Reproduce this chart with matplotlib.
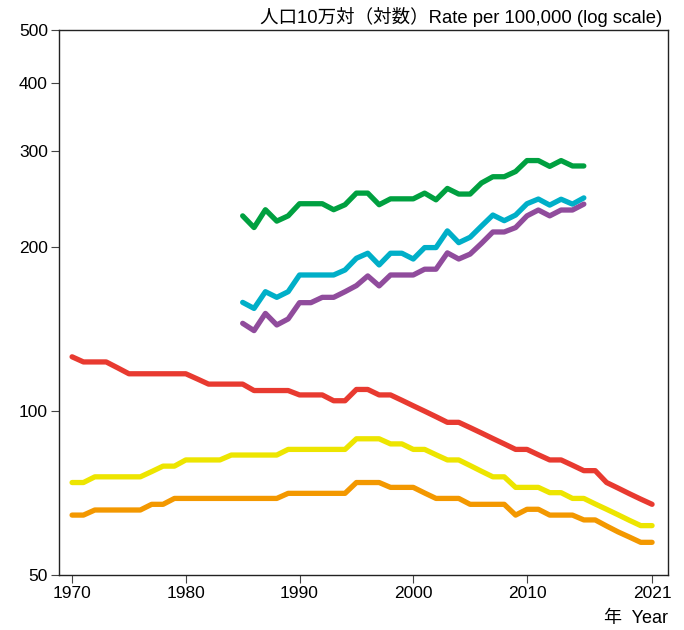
import numpy as np
import matplotlib
matplotlib.use("Agg")
import matplotlib.pyplot as plt

plt.rcParams['font.family'] = ['Liberation Sans', 'DejaVu Sans']

# Data
years_long = list(range(1970, 2022))
years_short = list(range(1985, 2016))

red = [125.7, 123, 123, 123, 120, 117, 117, 117, 117, 117,
       117, 114.5, 112, 112, 112, 112, 109, 109, 109, 109,
       107, 107, 107, 104.4, 104.4, 109.5, 109.5, 107, 107, 104.6,
       102.2, 99.9, 97.6, 95.3, 95.3, 93.2, 91.1, 89, 87, 85,
       85, 83.1, 81.3, 81.3, 79.5, 77.7, 77.7, 73.9, 72.2, 70.5,
       68.9, 67.4]
yellow = [73.9, 73.9, 75.7, 75.7, 75.7, 75.7, 75.7, 77.4, 79.2, 79.2,
          81.3, 81.3, 81.3, 81.3, 83, 83, 83, 83, 83, 85,
          85, 85, 85, 85, 85, 88.9, 88.9, 88.9, 87, 87,
          85, 85, 83.1, 81.3, 81.3, 79.4, 77.5, 75.7, 75.7, 72.4,
          72.4, 72.4, 70.8, 70.8, 69.1, 69.1, 67.5, 66, 64.5, 63,
          61.6, 61.6]
orange = [64.4, 64.4, 65.8, 65.8, 65.8, 65.8, 65.8, 67.4, 67.4, 69.1,
          69.1, 69.1, 69.1, 69.1, 69.1, 69.1, 69.1, 69.1, 69.1, 70.6,
          70.6, 70.6, 70.6, 70.6, 70.6, 73.9, 73.9, 73.9, 72.4, 72.4,
          72.4, 70.7, 69.1, 69.1, 69.1, 67.4, 67.4, 67.4, 67.4, 64.4,
          66, 66, 64.4, 64.4, 64.4, 63.1, 63.1, 61.5, 60, 58.7,
          57.4, 57.4]

green = [228, 217, 234, 223, 228, 240, 240, 240, 234, 239,
         251, 251, 239, 245, 245, 245, 251, 244, 256, 250,
         250, 262, 269, 269, 275, 288, 288, 281, 288, 281.5,
         281.5]
cyan = [158.2, 154.2, 165.5, 161.6, 165.5, 177.6, 177.6, 177.6, 177.6, 181.4,
        190.6, 194.7, 185.3, 194.7, 194.7, 190, 199.4, 199.4, 214, 203.6,
        208.3, 218.4, 228.8, 223.4, 228.8, 240, 244.8, 238.6, 244.6, 239.6,
        246]
purple = [144.8, 140.4, 151, 143.8, 147.5, 158, 158, 161.6, 161.6, 165.5,
          169.8, 176.9, 169.6, 177.6, 177.6, 177.6, 182, 182, 195, 190,
          194, 203, 213, 213, 217, 228, 233.7, 228, 233.7, 233.7,
          239.6]

xticks = [1970, 1980, 1990, 2000, 2010, 2021]
yticks = [50, 100, 200, 300, 400, 500]

fig = plt.figure(figsize=(6.84, 6.3), dpi=100)
ax = fig.add_axes([59 / 684, 1 - 575 / 630, (668 - 59) / 684, (575 - 30) / 630])

lw = 3.8
style = dict(linewidth=lw, solid_capstyle='round', solid_joinstyle='round')
ax.plot(years_long, red, color='#E83A30', **style)
ax.plot(years_long, yellow, color='#EDE500', **style)
ax.plot(years_long, orange, color='#F39800', **style)
ax.plot(years_short, green, color='#00A040', **style)
ax.plot(years_short, cyan, color='#00AFC8', **style)
ax.plot(years_short, purple, color='#904C9C', **style)

ax.set_yscale('log')
ax.set_ylim(50, 500)
ax.set_xlim(1968.85, 2022.4)
ax.set_yticks(yticks)
ax.set_yticklabels([str(v) for v in yticks])
ax.yaxis.set_minor_locator(matplotlib.ticker.NullLocator())
ax.set_xticks(xticks)
ax.set_xticklabels([str(v) for v in xticks])

for s in ax.spines.values():
    s.set_color('#222222')
    s.set_linewidth(1.0)
ax.tick_params(axis='both', direction='out', length=6, width=0.8,
               color='#444444', labelsize=12.5, pad=2)

cjk = ['Liberation Sans', 'Noto Sans CJK JP', 'DejaVu Sans']
fig.text(662 / 684, 1 - 17 / 630, '人口10万対（対数）Rate per 100,000 (log scale)',
         ha='right', va='center', fontsize=13.3, family=cjk)
fig.text(668 / 684, 1 - 619 / 630, '年  Year', ha='right', va='center',
         fontsize=13, family=cjk)

fig.savefig('out.png', dpi=100)
